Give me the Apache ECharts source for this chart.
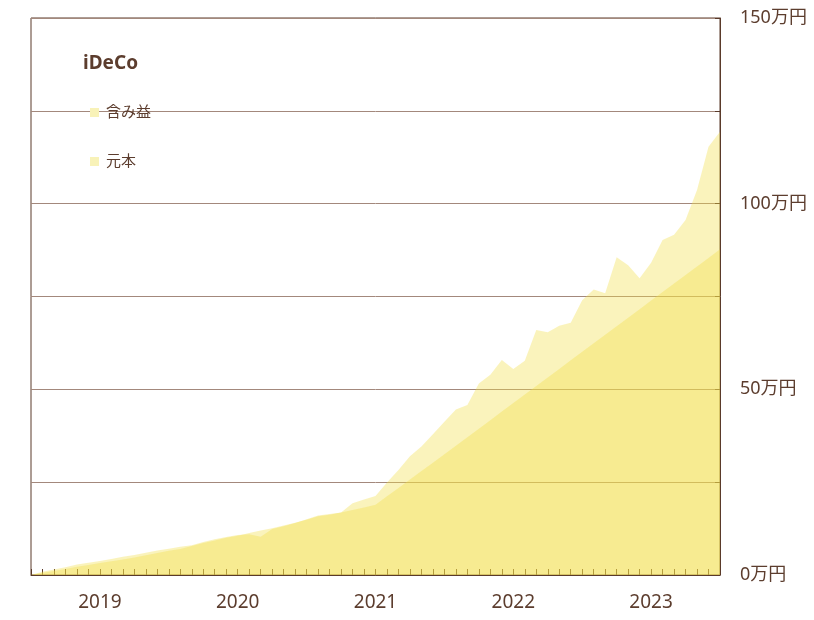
<!DOCTYPE html>
<html>
<head>
<meta charset="utf-8">
<script src="https://cdn.jsdelivr.net/npm/echarts@6/dist/echarts.min.js"></script>
<style>
html,body{margin:0;padding:0;background:#fff;}
#chart{width:814px;height:620px;}
</style>
</head>
<body>
<div id="chart"></div>
<script>
// ---- data ----
var startYear = 2019;
var monthCount = 61; // 2019-01 .. 2024-01
var yearLabels = ['2019', '2020', '2021', '2022', '2023'];
var seriesNames = ['含み益', '元本'];
var chartTitle = 'iDeCo';
var yUnit = '万円';
// total valuation (含み益 series), 万円
var valuation = [
  0.0, 0.9, 1.5, 2.1, 2.8, 3.3, 3.8, 4.3, 4.9, 5.4,
  6.0, 6.6, 7.1, 7.6, 8.0, 8.9, 9.6, 10.2, 10.8, 11.0,
  10.3, 12.4, 13.1, 14.0, 15.0, 16.0, 16.4, 16.8, 19.3, 20.3,
  21.3, 24.9, 28.3, 32.0, 34.6, 37.9, 41.3, 44.6, 45.8, 51.6,
  53.9, 57.9, 55.5, 57.7, 66.0, 65.4, 67.1, 67.9, 74.0, 76.9,
  75.9, 85.6, 83.4, 79.9, 84.1, 90.2, 91.6, 95.6, 103.7, 115.3,
  119.4
];
// principal (元本), 万円
var principal = [
  0.0, 0.6, 1.1, 1.6, 2.2, 2.7, 3.2, 3.7, 4.2, 4.7,
  5.3, 5.9, 6.5, 7.0, 7.8, 8.6, 9.3, 10.0, 10.6, 11.3,
  12.0, 12.6, 13.3, 14.1, 14.9, 15.8, 16.2, 16.8, 17.5, 18.2,
  18.9, 21.2, 23.4, 25.7, 28.0, 30.2, 32.5, 34.8, 37.1, 39.4,
  41.7, 44.0, 46.3, 48.6, 50.9, 53.2, 55.5, 57.8, 60.1, 62.4,
  64.7, 67.0, 69.3, 71.6, 73.9, 76.2, 78.5, 80.8, 83.1, 85.4,
  87.7
];

var months = [];
for (var i = 0; i < monthCount; i++) {
  var y = startYear + Math.floor(i / 12);
  var m = (i % 12) + 1;
  months.push(y + '-' + (m < 10 ? '0' + m : m));
}

var textColor = '#5c3d2e';
var axisColor = '#5a3a2a';
var gridColor = '#a3887c';
var fillColor = 'rgb(241,222,72)';
var fillOpacity = 0.37;
var fontFam = '"Noto Sans", "Noto Sans CJK JP", sans-serif';

var chart = echarts.init(document.getElementById('chart'), null, {renderer: 'canvas'});
chart.setOption({
  animation: false,
  backgroundColor: '#ffffff',
  title: {
    text: chartTitle,
    left: 78,
    top: 49,
    textStyle: {color: textColor, fontSize: 19, fontWeight: 'bold', fontFamily: fontFam}
  },
  legend: {
    orient: 'vertical',
    left: 85,
    top: 100,
    itemWidth: 9,
    itemHeight: 9,
    itemGap: 34,
    icon: 'rect',
    textStyle: {color: textColor, fontSize: 15, lineHeight: 15, fontFamily: fontFam, padding: [0, 0, 0, 2]},
    data: [
      {name: seriesNames[0], itemStyle: {color: 'rgb(248,242,184)'}},
      {name: seriesNames[1], itemStyle: {color: 'rgb(248,242,184)'}}
    ]
  },
  grid: {
    left: 31, right: 94, top: 18, bottom: 45,
    show: true, borderColor: axisColor, borderWidth: 1, backgroundColor: 'transparent'
  },
  xAxis: {
    type: 'category',
    data: months,
    boundaryGap: false,
    axisLine: {show: true, lineStyle: {color: axisColor, width: 1}},
    axisTick: {show: true, inside: true, length: 6, interval: 0, lineStyle: {color: axisColor}},
    axisLabel: {
      interval: function (index) { return index % 12 === 6; },
      formatter: function (v) { return v.slice(0, 4); },
      color: textColor, fontSize: 19, fontFamily: fontFam, margin: 18
    },
    splitLine: {show: false}
  },
  yAxis: {
    type: 'value',
    position: 'right',
    min: 0, max: 150, interval: 25,
    axisLine: {show: true, lineStyle: {color: axisColor}},
    axisTick: {show: true, inside: true, length: 5, lineStyle: {color: axisColor}},
    axisLabel: {
      formatter: function (v) { return v % 50 === 0 ? v + yUnit : ''; },
      color: textColor, fontSize: 18, fontFamily: fontFam, margin: 20
    },
    splitLine: {show: true, lineStyle: {color: gridColor, width: 1}}
  },
  series: [
    {
      name: seriesNames[0], type: 'line', data: valuation,
      showSymbol: false, symbol: 'none',
      itemStyle: {color: fillColor},
      lineStyle: {width: 0, opacity: 0},
      areaStyle: {color: fillColor, opacity: fillOpacity}
    },
    {
      name: seriesNames[1], type: 'line', data: principal,
      showSymbol: false, symbol: 'none',
      itemStyle: {color: fillColor},
      lineStyle: {width: 0, opacity: 0},
      areaStyle: {color: fillColor, opacity: fillOpacity}
    }
  ]
});
</script>
</body>
</html>
